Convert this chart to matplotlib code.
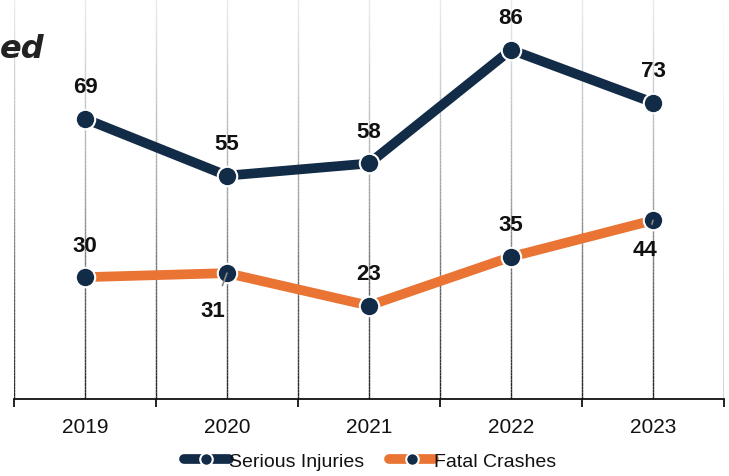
import numpy as np
import matplotlib.pyplot as plt
from matplotlib.collections import LineCollection
from matplotlib.colors import LinearSegmentedColormap

plt.rcParams['font.family'] = ['Liberation Sans', 'DejaVu Sans']

years = ['2019', '2020', '2021', '2022', '2023']
serious = [69, 55, 58, 86, 73]
fatal = [30, 31, 23, 35, 44]

navy = '#122b47'
orange = '#ea7433'

fig = plt.figure(figsize=(7.29, 4.77), dpi=100)
ax = fig.add_axes([14 / 729, 77 / 477, 710 / 729, 400 / 477])
x = np.arange(len(years))

ax.set_xlim(-0.5, 4.5)
ax.set_ylim(0, 98.5)

# vertical grid lines fading from light (top) to dark (bottom)
grid_cmap = LinearSegmentedColormap.from_list('g', ['#1e1e1e', '#a0a0a0', '#e6edf3'])
ys = np.linspace(0, 98.5, 120)
for gx in np.arange(-0.5, 4.51, 0.5):
    pts = np.array([[gx, y] for y in ys]).reshape(-1, 1, 2)
    segs = np.concatenate([pts[:-1], pts[1:]], axis=1)
    lc = LineCollection(segs, cmap=grid_cmap, linewidths=1.0, zorder=0)
    lc.set_array(ys[:-1] / 98.5)
    lc.set_clim(0, 1)
    ax.add_collection(lc)

ax.plot(x, serious, color=navy, lw=7, solid_capstyle='round',
        marker='o', ms=14, mfc=navy, mec='white', mew=1.5,
        label='Serious Injuries', zorder=3)
ax.plot(x, fatal, color=orange, lw=7, solid_capstyle='round',
        marker='o', ms=14, mfc=navy, mec='white', mew=1.5,
        label='Fatal Crashes', zorder=3)

for xi, v in zip(x, serious):
    ax.annotate(str(v), (xi, v), xytext=(0, 23), textcoords='offset points',
                ha='center', va='center', fontsize=16, fontweight='bold', color='#111111')

fatal_offsets = [(0, 23), (-10, -27), (0, 23), (0, 23), (-6, -21)]
for xi, v, off in zip(x, fatal, fatal_offsets):
    below = off[1] < 0
    ax.annotate(str(v), (xi, v), xytext=off, textcoords='offset points',
                ha='center', va='center', fontsize=16, fontweight='bold', color='#111111',
                arrowprops=dict(arrowstyle='-', color='#8a8a8a', lw=1.2,
                                shrinkA=9, shrinkB=0) if below else None,
                zorder=4)

for s in ['top', 'right', 'left']:
    ax.spines[s].set_visible(False)
ax.spines['bottom'].set_color('#111111')
ax.spines['bottom'].set_linewidth(1.3)

ax.set_yticks([])
ax.set_xticks(np.arange(-0.5, 4.51, 1.0))
ax.set_xticklabels([])
ax.tick_params(axis='x', which='major', length=6, width=1.3, color='#111111')
ax.set_xticks(x, minor=True)
ax.set_xticklabels(years, minor=True)
ax.tick_params(axis='x', which='minor', length=0, pad=13, labelsize=15, labelcolor='#111111')

fig.text(0 / 729, 1 - 49 / 477, 'ed', ha='left', va='center',
         fontsize=23, fontweight='bold', fontstyle='italic', color='#222222',
         family=['DejaVu Sans'])

leg = fig.legend(loc='center', bbox_to_anchor=(370 / 729, 1 - 462 / 477), ncol=2,
                 frameon=False, fontsize=14, handlelength=2.3, handletextpad=0.0,
                 columnspacing=1.3)
for t in leg.get_texts():
    t.set_color('#111111')
for h in leg.legend_handles:
    h.set_markersize(9)

fig.savefig('out.png', dpi=100)
